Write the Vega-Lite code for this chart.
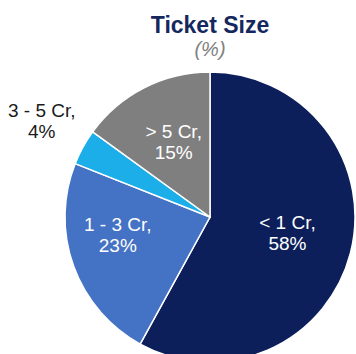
{
  "$schema": "https://vega.github.io/schema/vega-lite/v6.json",
  "width": 290,
  "height": 290,
  "autosize": {"type": "none"},
  "padding": {"left": 65, "top": 72, "right": 0, "bottom": 0},
  "background": "white",
  "title": {
    "text": "Ticket Size",
    "subtitle": "(%)",
    "anchor": "middle",
    "font": "Liberation Sans",
    "fontSize": 23,
    "fontWeight": "bold",
    "color": "#14275E",
    "subtitleFont": "Liberation Sans",
    "subtitleFontSize": 20,
    "subtitleFontStyle": "italic",
    "subtitleColor": "#7F7F7F",
    "subtitlePadding": 2,
    "offset": -37
  },
  "data": {
    "values": [
      {"cat": "< 1 Cr", "value": 58, "ord": 1, "label": "< 1 Cr,\n58%"},
      {"cat": "1 - 3 Cr", "value": 23, "ord": 2, "label": "1 - 3 Cr,\n23%"},
      {"cat": "3 - 5 Cr", "value": 4, "ord": 3, "label": "3 - 5 Cr,\n4%"},
      {"cat": "> 5 Cr", "value": 15, "ord": 4, "label": "> 5 Cr,\n15%"}
    ]
  },
  "encoding": {
    "theta": {"field": "value", "type": "quantitative", "stack": true},
    "order": {"field": "ord", "type": "quantitative"}
  },
  "layer": [
    {
      "mark": {"type": "arc", "outerRadius": 145, "stroke": "white", "strokeWidth": 1.5},
      "encoding": {
        "color": {
          "field": "cat",
          "type": "nominal",
          "scale": {
            "domain": ["< 1 Cr", "1 - 3 Cr", "3 - 5 Cr", "> 5 Cr"],
            "range": ["#0C1F5B", "#4472C4", "#1BAEE9", "#7F7F7F"]
          },
          "legend": null
        }
      }
    },
    {
      "mark": {"type": "text", "radius": 80, "dy": -14, "font": "Liberation Sans", "fontSize": 19, "lineHeight": 21, "lineBreak": "\n", "color": "white", "baseline": "middle"},
      "encoding": {
        "text": {"condition": {"test": "datum.cat == '3 - 5 Cr' || datum.cat == '1 - 3 Cr'", "value": ""}, "field": "label", "type": "nominal"}
      }
    },
    {
      "mark": {"type": "text", "radius": 98, "dy": -25, "font": "Liberation Sans", "fontSize": 19, "lineHeight": 21, "lineBreak": "\n", "color": "white", "baseline": "middle"},
      "encoding": {
        "text": {"condition": {"test": "datum.cat != '1 - 3 Cr'", "value": ""}, "field": "label", "type": "nominal"}
      }
    },
    {
      "mark": {"type": "text", "radius": 192, "dy": -14, "font": "Liberation Sans", "fontSize": 19, "lineHeight": 21, "lineBreak": "\n", "color": "#1A1A1A", "baseline": "middle"},
      "encoding": {
        "text": {"condition": {"test": "datum.cat != '3 - 5 Cr'", "value": ""}, "field": "label", "type": "nominal"}
      }
    }
  ]
}
